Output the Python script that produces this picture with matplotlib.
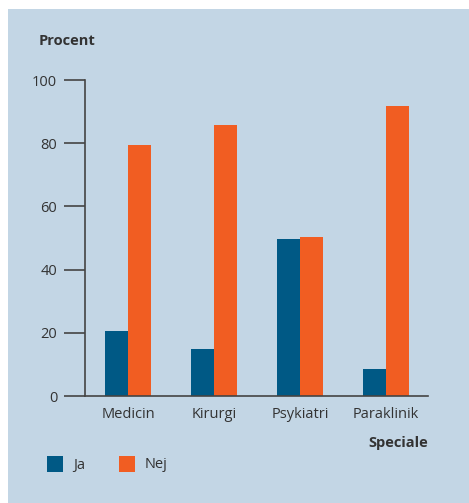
import numpy as np
import matplotlib
matplotlib.use("Agg")
import matplotlib.pyplot as plt
from matplotlib.patches import Rectangle

# Andel per speciale (procent)
specialer = ["Medicin", "Kirurgi", "Psykiatri", "Paraklinik"]
ja  = [20.6, 14.9, 49.7, 8.5]
nej = [79.4, 85.8, 50.3, 91.8]
yticks = [0, 20, 40, 60, 80, 100]

BG     = "#c3d6e5"
BLUE   = "#005985"
ORANGE = "#f15d22"
TXT    = "#333333"
FS     = 10.5

plt.rcParams["font.family"] = ["Open Sans", "DejaVu Sans"]

W, H = 469, 503
fig = plt.figure(figsize=(W / 100, H / 100), dpi=100)
fig.patch.set_facecolor("white")

# light-blue panel behind the chart
fig.patches.append(Rectangle((8 / W, 0), 1, 1 - 9 / H, transform=fig.transFigure,
                             facecolor=BG, edgecolor="none", zorder=-10))

ax = fig.add_axes([85 / W, (H - 396) / H, (428 - 85) / W, (396 - 80) / H])
ax.set_facecolor("none")

x = np.arange(len(specialer))
bw = 0.267
ax.bar(x - bw / 2, ja, bw, color=BLUE, zorder=2)
ax.bar(x + bw / 2, nej, bw, color=ORANGE, zorder=2)

ax.set_xlim(-0.5, 3.49)
ax.set_ylim(0, 100)
ax.set_yticks(yticks)
ax.set_xticks(x, specialer)

for s in ["top", "right"]:
    ax.spines[s].set_visible(False)
for s in ["left", "bottom"]:
    ax.spines[s].set_color("#444444")
    ax.spines[s].set_linewidth(1.2)

ax.tick_params(axis="y", length=15, width=1.2, color="#444444", pad=5,
               labelsize=FS, labelcolor=TXT)
ax.tick_params(axis="x", length=0, pad=8, labelsize=FS, labelcolor=TXT)

fig.text(39 / W, 1 - 41 / H, "Procent", fontsize=FS, fontweight="bold",
         color=TXT, ha="left", va="center")
fig.text(428 / W, 1 - 443 / H, "Speciale", fontsize=FS, fontweight="bold",
         color=TXT, ha="right", va="center")

# legend
for x0, lab, col in [(47, "Ja", BLUE), (119, "Nej", ORANGE)]:
    fig.patches.append(Rectangle((x0 / W, 1 - 472 / H), 16 / W, 16 / H,
                                 transform=fig.transFigure, facecolor=col,
                                 edgecolor="none", zorder=3))
    fig.text((x0 + 26) / W, 1 - 465 / H, lab, fontsize=FS, color=TXT,
             ha="left", va="center")

fig.savefig("out.png", dpi=100)
